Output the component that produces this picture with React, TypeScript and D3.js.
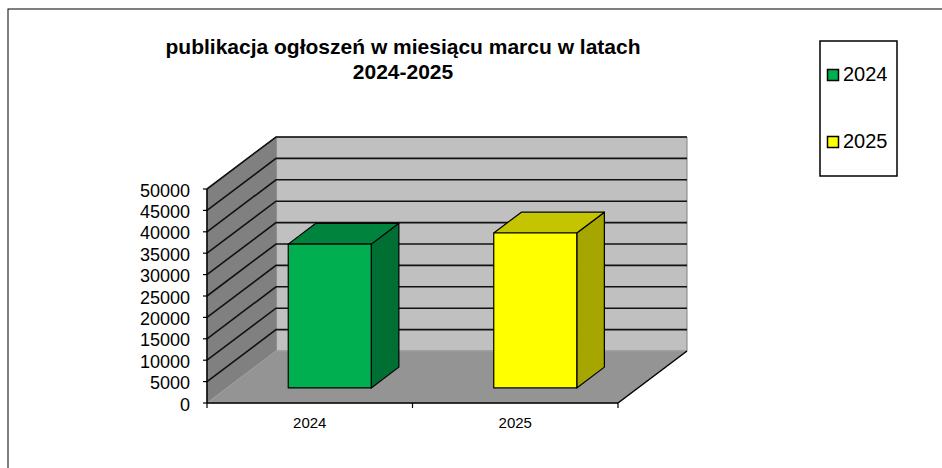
import React from "react";
import * as d3 from "d3";

const categories = ["2024", "2025"];
const values = [33600, 36200];
const yTicks = [0, 5000, 10000, 15000, 20000, 25000, 30000, 35000, 40000, 45000, 50000];
const titleLines = ["publikacja ogłoszeń w miesiącu marcu w latach", "2024-2025"];

const frontColors = ["#00b050", "#ffff00"];
const topColors = ["#00843d", "#c4c400"];
const sideColors = ["#006f33", "#a6a600"];

const W = 942;
const H = 468;
const X0 = 207;
const Y0 = 403;
const PW = 411;
const PH = 214;
const DX = 69;
const DY = 52;
const Z1 = 0.29;
const Z2 = 0.69;
const FONT = "'Liberation Sans', Arial, sans-serif";

export default function App() {
  const y = d3.scaleLinear().domain([0, 50000]).range([0, PH]);
  const x = d3
    .scaleBand<string>()
    .domain(categories)
    .range([0, PW])
    .paddingInner(0.596)
    .paddingOuter(0.298);

  const P = (px: number, v: number, z: number): [number, number] => [
    X0 + px + z * DX,
    Y0 - z * DY - y(v),
  ];
  const poly = (pts: [number, number][]) => pts.map((p) => p.join(",")).join(" ");

  const vmax = 50000;
  const backWall = poly([P(0, 0, 1), P(PW, 0, 1), P(PW, vmax, 1), P(0, vmax, 1)]);
  const sideWall = poly([P(0, 0, 0), P(0, vmax, 0), P(0, vmax, 1), P(0, 0, 1)]);
  const floor = poly([P(0, 0, 0), P(PW, 0, 0), P(PW, 0, 1), P(0, 0, 1)]);

  const step = x.step();
  const catTicks = [0, step, 2 * step].map((t) => Math.min(t, PW));

  return (
    <svg
      width={W}
      height={H}
      style={{ position: "absolute", left: 0, top: 0, background: "#fff" }}
      fontFamily={FONT}
    >
      <rect x={8} y={9} width={1000} height={600} fill="#fff" stroke="#000" strokeWidth={1} />

      {titleLines.map((t, i) => (
        <text
          key={i}
          x={403}
          y={54 + i * 25}
          textAnchor="middle"
          fontSize={21}
          fontWeight="bold"
          fill="#000"
        >
          {t}
        </text>
      ))}

      {/* walls */}
      <polygon points={backWall} fill="#c0c0c0" stroke="#808080" strokeWidth={1} />
      <polygon points={sideWall} fill="#808080" stroke="#808080" strokeWidth={1} />
      <polygon points={floor} fill="#949494" stroke="#a0a0a0" strokeWidth={1} />

      {/* gridlines */}
      {yTicks
        .filter((v) => v > 0)
        .map((v) => {
          const a = P(0, v, 0);
          const b = P(0, v, 1);
          const c = P(PW, v, 1);
          return (
            <polyline
              key={v}
              points={poly([a, b, c])}
              fill="none"
              stroke="#111"
              strokeWidth={1.6}
            />
          );
        })}

      {/* axes */}
      <line x1={X0} y1={P(0, 0, 0)[1]} x2={X0} y2={P(0, vmax, 0)[1]} stroke="#000" strokeWidth={1.5} />
      {yTicks.map((v) => {
        const [px, py] = P(0, v, 0);
        return (
          <g key={v}>
            <line x1={px - 4} x2={px} y1={py} y2={py} stroke="#000" strokeWidth={1.2} />
            <text x={px - 17} y={py + 7.5} textAnchor="end" fontSize={18} fill="#000">
              {v}
            </text>
          </g>
        );
      })}
      <line x1={X0} y1={Y0} x2={X0 + PW} y2={Y0} stroke="#000" strokeWidth={1.5} />
      <line x1={X0 + PW} y1={Y0} x2={P(PW, 0, 1)[0]} y2={P(PW, 0, 1)[1]} stroke="#000" strokeWidth={1.5} />
      {catTicks.map((t, i) => (
        <line key={i} x1={X0 + t} x2={X0 + t} y1={Y0} y2={Y0 + 5} stroke="#000" strokeWidth={1.2} />
      ))}
      {categories.map((c) => (
        <text
          key={c}
          x={X0 + (x(c) as number) + x.bandwidth() / 2}
          y={428}
          textAnchor="middle"
          fontSize={15}
          fill="#000"
        >
          {c}
        </text>
      ))}

      {/* bars */}
      {categories.map((c, i) => {
        const l = x(c) as number;
        const r = l + x.bandwidth();
        const v = values[i];
        const front = poly([P(l, 0, Z1), P(r, 0, Z1), P(r, v, Z1), P(l, v, Z1)]);
        const top = poly([P(l, v, Z1), P(r, v, Z1), P(r, v, Z2), P(l, v, Z2)]);
        const side = poly([P(r, 0, Z1), P(r, 0, Z2), P(r, v, Z2), P(r, v, Z1)]);
        return (
          <g key={c} stroke="#000" strokeWidth={1.2} strokeLinejoin="round">
            <polygon points={side} fill={sideColors[i]} />
            <polygon points={top} fill={topColors[i]} />
            <polygon points={front} fill={frontColors[i]} />
          </g>
        );
      })}

      {/* legend */}
      <rect x={820} y={41} width={77} height={135} fill="#fff" stroke="#000" strokeWidth={1.5} />
      {categories.map((c, i) => (
        <g key={c}>
          <rect
            x={827.5}
            y={69.5 + i * 67}
            width={11}
            height={11}
            fill={frontColors[i]}
            stroke="#000"
            strokeWidth={1.5}
          />
          <text x={843} y={81 + i * 67} fontSize={20} fill="#000">
            {c}
          </text>
        </g>
      ))}
    </svg>
  );
}
